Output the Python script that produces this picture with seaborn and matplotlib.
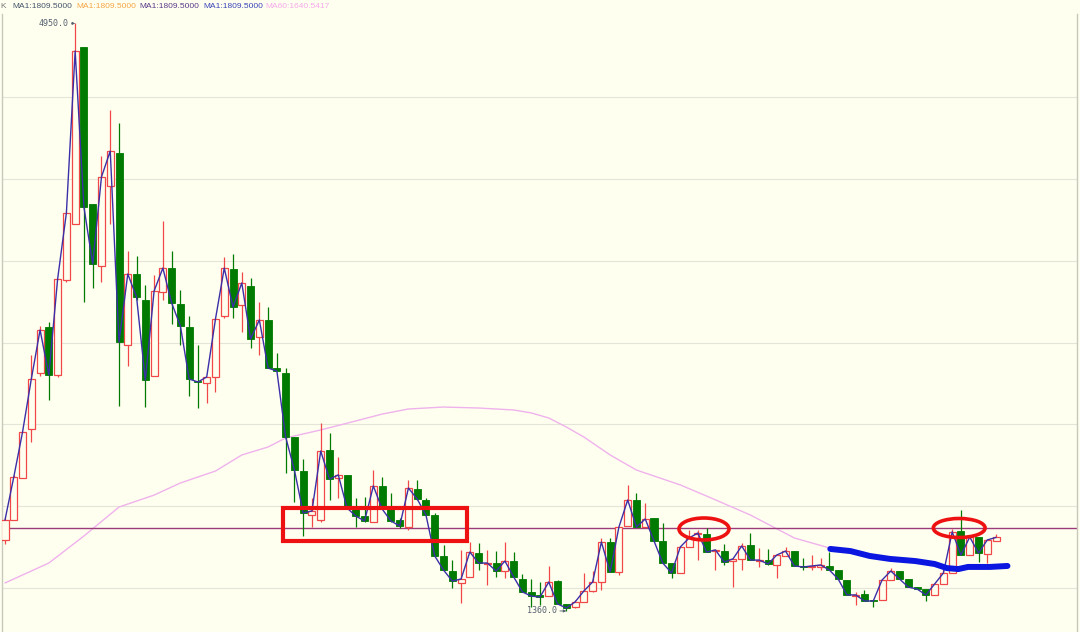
import numpy as np
import pandas as pd
import matplotlib
matplotlib.use("Agg")
import matplotlib.pyplot as plt
import seaborn as sns
from matplotlib.patches import Ellipse, Rectangle

# ---------------- data ----------------
opens = [1794, 1916, 2172, 2472, 2814, 3095, 2802, 3382, 3724, 4806,
         3847, 3468, 3956, 4158, 2985, 3419, 3260, 2796, 3309, 3455,
         3236, 3095, 2765, 2753, 2790, 3162, 3449, 3229, 3346, 3034,
         3138, 2844, 2814, 2423, 2215, 1946, 1916, 2343, 2172, 2191,
         1983, 1940, 1904, 2124, 1989, 1916, 1873, 2105, 2038, 1946,
         1696, 1604, 1531, 1568, 1714, 1647, 1653, 1604, 1665, 1555,
         1476, 1458, 1451, 1543, 1403, 1384, 1415, 1482, 1537, 1781,
         1598, 1879, 2038, 1873, 1928, 1788, 1653, 1592, 1751, 1830,
         1830, 1726, 1726, 1665, 1678, 1763, 1665, 1671, 1641, 1696,
         1726, 1635, 1629, 1629, 1635, 1610, 1549, 1451, 1464, 1427,
         1427, 1549, 1604, 1555, 1506, 1494, 1458, 1525, 1592, 1849,
         1702, 1812, 1708, 1788]
closes = [1916, 2178, 2453, 2777, 3077, 2802, 3388, 3792, 4781, 3828,
          3480, 4012, 4170, 3003, 3419, 3278, 2771, 3315, 3455, 3242,
          3101, 2777, 2759, 2790, 3144, 3455, 3217, 3364, 3022, 3138,
          2844, 2826, 2423, 2221, 1959, 1971, 2337, 2166, 2191, 1989,
          1940, 1910, 2124, 1983, 1910, 1879, 2111, 2044, 1946, 1696,
          1610, 1543, 1555, 1720, 1653, 1653, 1604, 1665, 1568, 1476,
          1451, 1445, 1537, 1403, 1378, 1415, 1482, 1537, 1781, 1598,
          1873, 2038, 1873, 1922, 1788, 1653, 1592, 1751, 1806, 1836,
          1720, 1733, 1659, 1678, 1757, 1671, 1671, 1647, 1702, 1726,
          1635, 1629, 1635, 1641, 1610, 1555, 1458, 1458, 1421, 1421,
          1549, 1604, 1555, 1506, 1494, 1458, 1525, 1592, 1843, 1702,
          1812, 1714, 1794, 1809.5]
highs = [1928, 2191, 2453, 2924, 3101, 3126, 3388, 3792, 4950, 4806,
         3847, 4140, 4421, 4341, 3559, 3529, 3352, 3413, 3743, 3559,
         3321, 3162, 2985, 2790, 3144, 3523, 3541, 3431, 3394, 3248,
         3217, 2936, 2844, 2423, 2288, 2050, 2508, 2447, 2301, 2191,
         2050, 2056, 2221, 2178, 2081, 1928, 2160, 2160, 2050, 1959,
         1763, 1671, 1733, 1781, 1775, 1733, 1726, 1781, 1720, 1586,
         1555, 1537, 1635, 1549, 1403, 1427, 1592, 1604, 1806, 1806,
         1873, 2130, 2081, 2020, 1928, 1897, 1653, 1751, 1855, 1855,
         1867, 1733, 1769, 1678, 1775, 1836, 1745, 1739, 1702, 1751,
         1726, 1684, 1702, 1684, 1720, 1610, 1549, 1476, 1488, 1427,
         1549, 1622, 1604, 1555, 1506, 1494, 1525, 1622, 1861, 1977,
         1812, 1812, 1794, 1830]
lows = [1769, 1916, 2172, 2392, 2796, 2649, 2790, 3370, 3724, 3248,
        3333, 3370, 3724, 2612, 2857, 3260, 2606, 2796, 3260, 3113,
        2985, 2673, 2600, 2631, 2698, 3150, 3150, 3065, 2967, 2924,
        2844, 2826, 2203, 2026, 1818, 1873, 1904, 2038, 2050, 1989,
        1873, 1904, 1904, 1983, 1904, 1867, 1855, 2038, 1946, 1696,
        1610, 1500, 1409, 1568, 1610, 1519, 1568, 1561, 1568, 1476,
        1384, 1396, 1451, 1403, 1360, 1378, 1415, 1476, 1488, 1598,
        1580, 1879, 1873, 1873, 1788, 1653, 1561, 1592, 1751, 1671,
        1720, 1610, 1641, 1506, 1610, 1671, 1629, 1641, 1561, 1696,
        1635, 1610, 1610, 1610, 1610, 1555, 1458, 1396, 1421, 1384,
        1427, 1549, 1555, 1506, 1494, 1421, 1458, 1525, 1592, 1702,
        1702, 1659, 1653, 1788]

ma60_idx = [0, 5, 9, 13, 17, 20, 24, 27, 30, 32, 36, 40, 43, 46, 50, 54, 58, 60, 62, 64, 66, 69,
            72, 77, 80, 85, 90, 94]
ma60_val = [1531, 1653, 1818, 1995, 2068, 2142, 2215, 2313, 2362, 2417, 2466, 2521, 2563, 2594,
            2606, 2600, 2588, 2570, 2539, 2484, 2423, 2313, 2221, 2130, 2062, 1946, 1806, 1745]

# hand-drawn blue support line (candle index, price)
blue_idx = [94.1, 96.4, 98.6, 100.9, 103.8, 106.0, 107.4, 108.7, 109.8, 112.3, 114.3]
blue_val = [1739, 1726, 1696, 1678, 1665, 1647, 1622, 1616, 1629, 1629, 1635]

grid_levels = [1500, 2000, 2500, 3000, 3500, 4000, 4500]
level_line = 1867
high_label = "4950.0"
low_label = "1360.0"
header_labels = ["MA1:1809.5000", "MA1:1809.5000", "MA1:1809.5000", "MA1:1809.5000", "MA60:1640.5417"]
header_colors = ["#44546a", "#f5a545", "#5a3a8a", "#3a44b8", "#f5a8ea"]

# ---------------- figure ----------------
BG = "#fffff0"
sns.set_theme(style="white")
plt.rcParams["font.family"] = ["Liberation Sans", "DejaVu Sans"]

fig = plt.figure(figsize=(10.8, 6.32), dpi=100, facecolor=BG)
W, H = 1080, 632
ax = fig.add_axes([2 / W, 0, 1075 / W, 618 / H])
ax.set_facecolor(BG)

n = len(closes)
idx = np.arange(n)
df = pd.DataFrame({"i": idx, "open": opens, "high": highs, "low": lows, "close": closes})
df["up"] = df["close"] >= df["open"]

ax.set_xlim(-0.342, 122.23)
ax.set_ylim(1231.5, 5007.4)

for g in grid_levels:
    ax.axhline(g, color="#e4e4d8", lw=0.8, zorder=0)

# MA60
sns.lineplot(x=ma60_idx, y=ma60_val, ax=ax, color="#efb2ec", lw=1.0, zorder=1)
# level line
ax.axhline(level_line, color="#9b3b7a", lw=1.0, zorder=2)

RED = "#f04848"
GREEN = "#007a00"
up = df[df["up"]]
dn = df[~df["up"]]
ax.vlines(up["i"], up["low"], up["high"], color=RED, lw=0.9, zorder=3)
ax.vlines(dn["i"], dn["low"], dn["high"], color=GREEN, lw=0.9, zorder=3)
bw = 0.8
ax.bar(up["i"], np.maximum((up["close"] - up["open"]).abs(), 8), bottom=np.minimum(up["open"], up["close"]),
       width=bw, facecolor=BG, edgecolor=RED, lw=0.9, zorder=4)
ax.bar(dn["i"], np.maximum((dn["close"] - dn["open"]).abs(), 8), bottom=np.minimum(dn["open"], dn["close"]),
       width=bw, facecolor=GREEN, edgecolor=GREEN, lw=0.6, zorder=4)

# close line (MA1)
sns.lineplot(x=idx, y=df["close"], ax=ax, color="#3b2fa8", lw=1.0, zorder=5)

# annotations
ax.add_patch(Rectangle((31.7, 1788), 21.0, 201, fill=False, edgecolor="#ee1111", lw=3.0, zorder=6))
ax.add_patch(Ellipse((79.7, 1861), 5.7, 134, fill=False, edgecolor="#ee1111", lw=2.6, zorder=6))
ax.add_patch(Ellipse((108.8, 1867), 5.9, 116, fill=False, edgecolor="#ee1111", lw=2.6, zorder=6))
sns.lineplot(x=blue_idx, y=blue_val, ax=ax, color="#0b17e0", lw=4.3, zorder=6, sort=False)
ax.lines[-1].set_solid_capstyle("round")

hi_i = int(np.argmax(highs))
lo_i = int(np.argmin(lows))
ax.annotate(high_label, xy=(hi_i, max(highs)), xytext=(-5, 0), textcoords="offset points",
            ha="right", va="center", fontsize=6, family="DejaVu Sans Mono", color="#556070",
            arrowprops=dict(arrowstyle="-|>", lw=0.6, color="#556070", mutation_scale=4,
                            shrinkA=0, shrinkB=0))
ax.annotate(low_label, xy=(lo_i, min(lows)), xytext=(-7, 0), textcoords="offset points",
            ha="right", va="center", fontsize=6, family="DejaVu Sans Mono", color="#556070",
            arrowprops=dict(arrowstyle="-|>", lw=0.6, color="#556070", mutation_scale=4,
                            shrinkA=0, shrinkB=0))

ax.set_xticks([])
ax.set_yticks([])
ax.set_xlabel("")
ax.set_ylabel("")
for s in ["top", "bottom"]:
    ax.spines[s].set_visible(False)
for s in ["left", "right"]:
    ax.spines[s].set_visible(True)
    ax.spines[s].set_color("#c8c8bc")
    ax.spines[s].set_linewidth(1.0)
if ax.get_legend():
    ax.get_legend().remove()

# header
ty = 1 - 7 / H
fig.text(0 / W, ty, "K", color="#777777", fontsize=6.0, va="center", ha="left")
xs = [12, 76, 139, 203, 265]
for x0, lab, c in zip(xs, header_labels, header_colors):
    fig.text(x0 / W, ty, lab, color=c, fontsize=6.0, va="center", ha="left")

fig.savefig("out.png", dpi=100, facecolor=BG)
